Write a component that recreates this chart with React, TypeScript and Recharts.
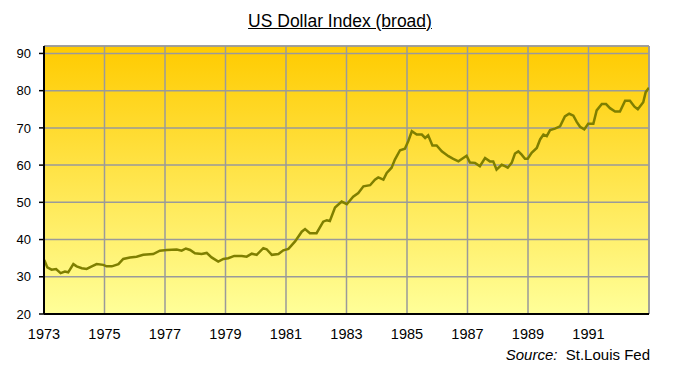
import { LineChart, Line, XAxis, YAxis, CartesianGrid, ReferenceLine } from 'recharts'

const dates = [
  1973.01, 1973.11, 1973.25, 1973.4, 1973.55, 1973.69, 1973.8, 1973.97,
  1974.08, 1974.25, 1974.41, 1974.58, 1974.74, 1974.96,
  1975.07, 1975.24, 1975.46, 1975.62, 1975.84,
  1976.06, 1976.28, 1976.61, 1976.83,
  1977.06, 1977.39, 1977.55, 1977.69, 1977.83, 1977.99,
  1978.21, 1978.38, 1978.54, 1978.76, 1978.93,
  1979.09, 1979.29, 1979.54, 1979.7, 1979.87,
  1980.03, 1980.25, 1980.36, 1980.53, 1980.75, 1980.91,
  1981.08, 1981.3, 1981.52, 1981.63, 1981.79,
  1982.01, 1982.23, 1982.35, 1982.45, 1982.62, 1982.84,
  1983.01, 1983.22, 1983.39, 1983.56, 1983.78, 1983.94,
  1984.05, 1984.22, 1984.33, 1984.49, 1984.6, 1984.77, 1984.93,
  1985.04, 1985.16, 1985.32, 1985.49, 1985.6, 1985.7, 1985.84, 1985.98,
  1986.15, 1986.37, 1986.53, 1986.7, 1986.86, 1986.97,
  1987.08, 1987.25, 1987.41, 1987.58, 1987.74, 1987.85, 1987.96,
  1988.13, 1988.24, 1988.33, 1988.46, 1988.57, 1988.68, 1988.79, 1988.9, 1988.99,
  1989.12, 1989.29, 1989.4, 1989.51, 1989.62, 1989.73, 1989.89,
  1990.06, 1990.22, 1990.36, 1990.5, 1990.61, 1990.72, 1990.86, 1990.99,
  1991.16, 1991.27, 1991.44, 1991.58, 1991.71, 1991.88,
  1992.04, 1992.21, 1992.37, 1992.52, 1992.63, 1992.81, 1992.89, 1993.0,
]

const values = [
  34.5, 32.5, 31.9, 32.1, 31.0, 31.4, 31.2, 33.4,
  32.8, 32.3, 32.1, 32.8, 33.4, 33.2,
  32.8, 32.8, 33.4, 34.8, 35.2,
  35.4, 35.9, 36.1, 37.0,
  37.2, 37.3, 37.0, 37.6, 37.2, 36.3,
  36.1, 36.4, 35.2, 34.1, 34.8,
  35.0, 35.6, 35.6, 35.4, 36.2,
  35.9, 37.7, 37.4, 35.9, 36.1, 37.1,
  37.5, 39.5, 42.1, 42.8, 41.7,
  41.7, 44.8, 45.2, 45.0, 48.6, 50.2,
  49.5, 51.5, 52.5, 54.3, 54.6, 56.1,
  56.7, 56.1, 57.9, 59.3, 61.5, 64.0, 64.4,
  66.4, 69.1, 68.2, 68.2, 67.3, 68.0, 65.3, 65.3,
  63.7, 62.4, 61.7, 61.0, 61.9, 62.5,
  60.7, 60.6, 59.7, 61.9, 61.0, 61.0, 58.8,
  60.1, 59.7, 59.3, 60.6, 63.1, 63.7, 62.8, 61.7, 61.7,
  63.3, 64.6, 66.9, 68.2, 67.8, 69.4, 69.8,
  70.4, 73.1, 73.8, 73.3, 71.6, 70.3, 69.6, 71.1,
  71.1, 74.7, 76.4, 76.4, 75.3, 74.4,
  74.4, 77.3, 77.3, 75.7, 75.0, 76.9, 79.6, 80.8,
]

const yearTicks = [1973, 1975, 1977, 1979, 1981, 1983, 1985, 1987, 1989, 1991]
const valueTicks = [20, 30, 40, 50, 60, 70, 80, 90]

const data = dates.map((d, i) => ({ date: d, value: values[i] }))

const font = '"Liberation Sans", Arial, sans-serif'

export default function App() {
  return (
    <div style={{ position: 'absolute', left: 0, top: 0, width: 680, height: 374, background: '#fff', fontFamily: font }}>
      <div
        style={{
          position: 'absolute',
          left: 0,
          width: 680,
          top: 11,
          textAlign: 'center',
          fontSize: 17.5,
          lineHeight: '20px',
          textDecoration: 'underline',
          color: '#000',
          paddingLeft: 0,
        }}
      >
        US Dollar Index (broad)
      </div>
      <LineChart
        width={680}
        height={374}
        data={data}
        margin={{ top: 46, right: 31, left: 0, bottom: 30 }}
      >
        <defs>
          <linearGradient id="bg" x1="0" y1="0" x2="0" y2="1">
            <stop offset="0%" stopColor="#ffcb00" />
            <stop offset="100%" stopColor="#ffff99" />
          </linearGradient>
        </defs>
        <CartesianGrid stroke="#9a9a9a" strokeWidth={1.5} fill="url(#bg)" fillOpacity={1} />
        <ReferenceLine y={92} stroke="#9a9a9a" strokeWidth={1.5} />
        <ReferenceLine x={1993} stroke="#9a9a9a" strokeWidth={1.5} />
        <XAxis
          dataKey="date"
          type="number"
          domain={[1973, 1993]}
          ticks={yearTicks}
          allowDataOverflow
          height={30}
          tickLine={false}
          tickSize={6}
          tickMargin={9}
          axisLine={{ stroke: '#000', strokeWidth: 2 }}
          tick={{ fill: '#000', fontSize: 14.5, fontFamily: font }}
        />
        <YAxis
          type="number"
          domain={[20, 92]}
          ticks={valueTicks}
          allowDataOverflow
          width={44}
          tickSize={5}
          tickMargin={8}
          tickLine={{ stroke: '#000', strokeWidth: 1.5 }}
          axisLine={{ stroke: '#000', strokeWidth: 2 }}
          tick={{ fill: '#000', fontSize: 13, fontFamily: font }}
        />
        <Line
          type="linear"
          dataKey="value"
          stroke="#7f7f00"
          strokeWidth={2.5}
          dot={false}
          isAnimationActive={false}
        />
      </LineChart>
      <div
        style={{
          position: 'absolute',
          right: 30,
          top: 346,
          fontSize: 15,
          lineHeight: '18px',
          color: '#000',
          whiteSpace: 'nowrap',
        }}
      >
        <i>Source:</i>&nbsp; St.Louis Fed
      </div>
    </div>
  )
}
